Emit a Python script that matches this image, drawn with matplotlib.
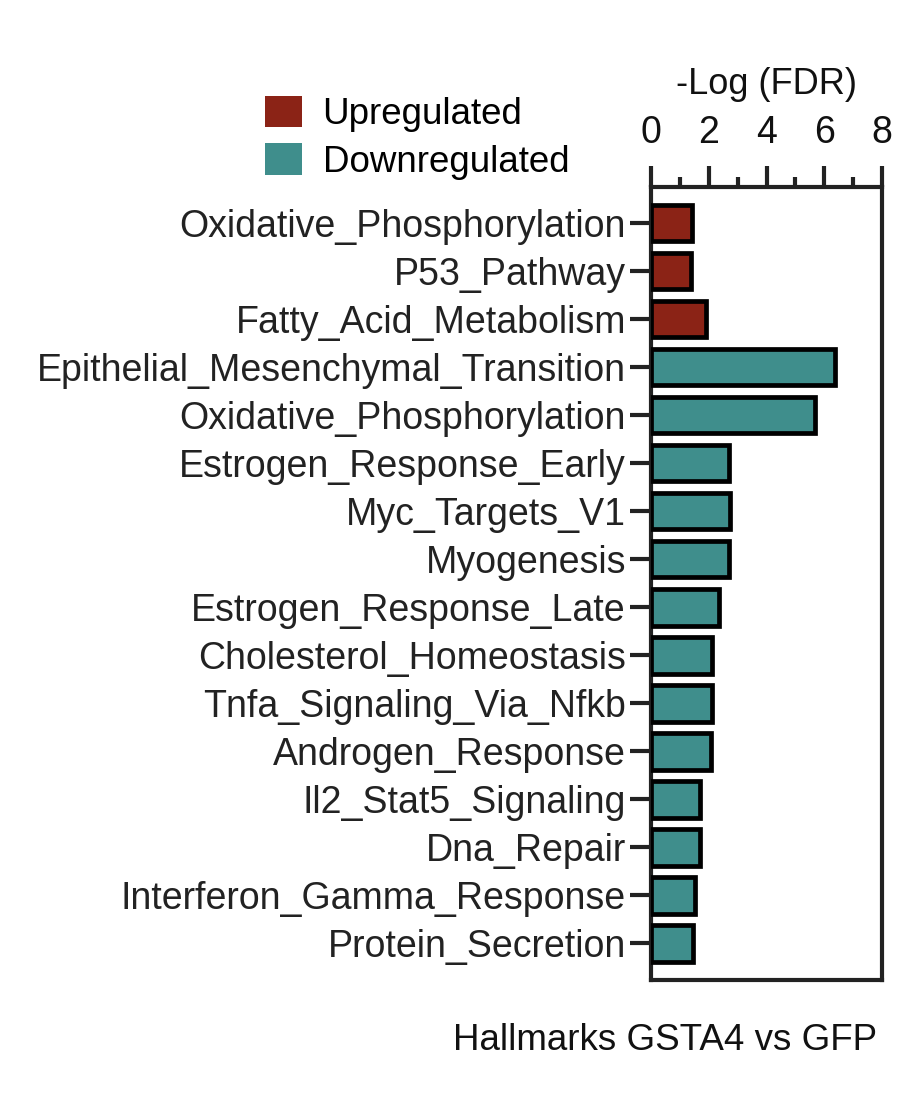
import matplotlib.pyplot as plt
from matplotlib.patches import Patch
from matplotlib.ticker import MultipleLocator

plt.rcParams['font.family'] = ['Liberation Sans', 'DejaVu Sans']

# pathways, top to bottom
pathways = [
    "Oxidative_Phosphorylation", "P53_Pathway", "Fatty_Acid_Metabolism",
    "Epithelial_Mesenchymal_Transition", "Oxidative_Phosphorylation",
    "Estrogen_Response_Early", "Myc_Targets_V1", "Myogenesis",
    "Estrogen_Response_Late", "Cholesterol_Homeostasis",
    "Tnfa_Signaling_Via_Nfkb", "Androgen_Response", "Il2_Stat5_Signaling",
    "Dna_Repair", "Interferon_Gamma_Response", "Protein_Secretion",
]
neg_log_fdr = [1.41, 1.40, 1.90, 6.38, 5.68, 2.70, 2.72, 2.71, 2.36, 2.10,
               2.10, 2.08, 1.70, 1.68, 1.53, 1.46]
direction = ["up"] * 3 + ["down"] * 13

colors = {"up": "#8b2316", "down": "#3f8e8c"}
ink = "#222222"

W, H = 908, 1104
fig = plt.figure(figsize=(W / 100, H / 100), dpi=100)
ax = fig.add_axes([651 / W, (H - 980) / H, (882 - 651) / W, (980 - 187) / H])

ypos = list(range(len(pathways)))
ax.barh(ypos, neg_log_fdr, height=0.77,
        color=[colors[d] for d in direction],
        edgecolor="black", linewidth=3.4, zorder=3)

ax.set_xlim(0, 8)
ax.set_ylim(len(pathways) - 1 + 0.77, -0.75)
ax.xaxis.tick_top()
ax.xaxis.set_label_position("top")
ax.xaxis.set_major_locator(MultipleLocator(2))
ax.xaxis.set_minor_locator(MultipleLocator(1))
ax.set_yticks(ypos)
ax.set_yticklabels(pathways)

for s in ax.spines.values():
    s.set_linewidth(3)
    s.set_color(ink)

ax.tick_params(axis="x", which="major", direction="out", length=15, width=3,
               color=ink, labelsize=27, labelcolor="#111111", pad=11)
ax.tick_params(axis="x", which="minor", direction="out", length=7.5, width=3,
               color=ink)
ax.tick_params(axis="y", direction="out", length=15, width=3, color=ink,
               labelsize=27, labelcolor=ink, pad=3)

ax.set_xlabel("-Log (FDR)", fontsize=26, color="#111111", labelpad=15)

handles = [Patch(facecolor=colors["up"], label="Upregulated"),
           Patch(facecolor=colors["down"], label="Downregulated")]
fig.legend(handles=handles, loc="upper left",
           bbox_to_anchor=(250 / W, 1 - 81 / H), frameon=False,
           fontsize=26.5, handlelength=1.0, handleheight=0.95,
           handletextpad=0.57, labelspacing=0.3, borderaxespad=0)

fig.text(665 / W, 1 - 1040 / H, "Hallmarks GSTA4 vs GFP", fontsize=26.5,
         ha="center", va="center", color="#111111")

fig.savefig("out.png", dpi=100, facecolor="white")
